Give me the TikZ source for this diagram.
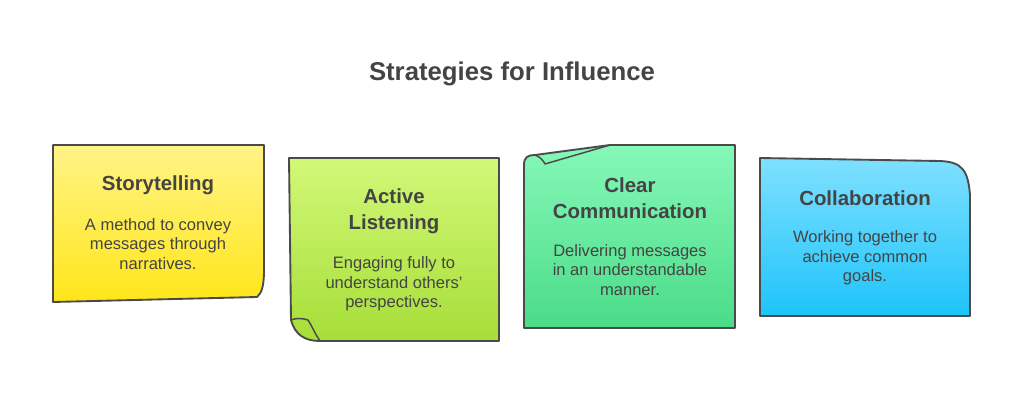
\documentclass[tikz,border=0pt]{standalone}
\usepackage{fontspec}
\setmainfont{Liberation Sans}
\definecolor{txt}{HTML}{444444}
\definecolor{edge}{HTML}{4A4A4A}
\definecolor{yA}{HTML}{FFF387}\definecolor{yB}{HTML}{FFE619}
\definecolor{gA}{HTML}{D2F878}\definecolor{gB}{HTML}{A6DE38}
\definecolor{tA}{HTML}{86F8B8}\definecolor{tB}{HTML}{4ADC88}
\definecolor{bA}{HTML}{7FE0FF}\definecolor{bB}{HTML}{1EC4FA}
\tikzset{note/.style={draw=edge,line width=1.4pt,line join=round},
 head/.style={font=\bfseries\fontsize{15.3}{19.5}\selectfont,text=txt,align=center},
 body/.style={font=\fontsize{12.4}{14.6}\selectfont,text=txt,align=center},
 title/.style={font=\bfseries\fontsize{19.3}{22}\selectfont,text=txt}}
\begin{document}
\begin{tikzpicture}[x=0.75pt,y=-0.75pt]
\useasboundingbox (0,0) rectangle (1024,409);
\node[title] (t) at (512,74) {Strategies for Influence};
% 1
\shade[top color=yA,bottom color=yB] (53,145) -- (264,145) -- (264,270) .. controls (264,285) and (262,293) .. (257,297) -- (53,302) -- cycle;
\draw[note] (53,145) -- (264,145) -- (264,270) .. controls (264,285) and (262,293) .. (257,297) -- (53,302) -- cycle;
\node[head] (h1) at (158,185) {Storytelling};
\node[body] (b1) at (158,244) {A method to convey\\messages through\\narratives.};
% 2
\shade[top color=gA,bottom color=gB] (289,158) -- (499,158) -- (499,341) -- (320,341) .. controls (305,341) and (295,335) .. (291,320) -- cycle;
\draw[note] (289,158) -- (499,158) -- (499,341) -- (320,341) .. controls (305,341) and (295,335) .. (291,320) -- (289,158) -- cycle;
\draw[note,line width=1.1pt] (291,320) .. controls (296,318) and (302,318) .. (308,320) .. controls (312,326) and (314,332) .. (320,341);
\node[head] (h2) at (394,211) {Active\\Listening};
\node[body] (b2) at (394,284) {Engaging fully to\\understand others'\\perspectives.};
% 3
\shade[top color=tA,bottom color=tB] (524,328) -- (524,165) .. controls (524,157) and (528,155) .. (535,155) -- (610,145) -- (735,145) -- (735,328) -- cycle;
\draw[note] (524,328) -- (524,165) .. controls (524,157) and (528,155) .. (535,155) -- (610,145) -- (735,145) -- (735,328) -- cycle;
\draw[note,line width=1.1pt] (535,155) .. controls (540,157) and (543,160) .. (545,164) -- (610,145);
\node[head] (h3) at (630,198) {Clear\\Communication};
\node[body] (b3) at (630,270) {Delivering messages\\in an understandable\\manner.};
% 4
\shade[top color=bA,bottom color=bB] (760,158) -- (940,161) .. controls (962,162) and (968,170) .. (970,195) -- (970,316) -- (760,316) -- cycle;
\draw[note] (760,158) -- (940,161) .. controls (962,162) and (968,170) .. (970,195) -- (970,316) -- (760,316) -- cycle;
\node[head] (h4) at (865,198) {Collaboration};
\node[body] (b4) at (865,258) {Working together to\\achieve common\\goals.};
\end{tikzpicture}
\end{document}
